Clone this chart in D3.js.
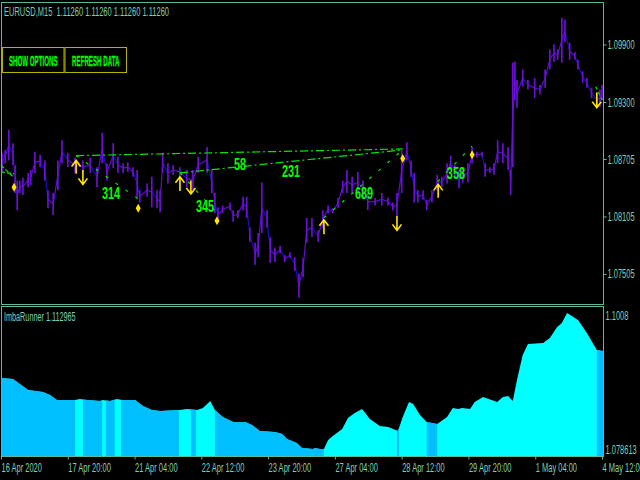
<!DOCTYPE html>
<html>
<head>
<meta charset="utf-8">
<script src="https://cdnjs.cloudflare.com/ajax/libs/d3/7.8.5/d3.min.js"></script>
<style>
  html, body { margin: 0; padding: 0; background: #000; overflow: hidden; }
  text { font-family: "Liberation Sans", Arial, sans-serif; }
</style>
</head>
<body>
<div id="chart"></div>
<script>
// Price columns (bar number, high, low)
const priceBars = [2,8,15,23,27,31,36,42,52,57,65,75,84,90,100,109,117,128,142,157,171,184,194,203,215,224,234,243,253,261,266,280,289,299,305,310,320,330,343,356,368,378,395,404,410,416,425,439,445,454,464,471,477,487,493,500,510,516,525,535,544,554,563,571,579,586,596,608,617,627,636,646,655,663,673,684,694,703,717,730,742,751,759,768,778,786,792,799,809,816,826,836,845,855,862,870,878,885,895,903,912,922,928,937,945,952,962,972,977,981,985,989,1000,1010,1023,1033,1043,1052,1060,1067,1075,1081,1090,1100,1106,1115,1123,1132,1142,1148,1152];
const priceHighs = [1.0877,1.0880,1.0901,1.0887,1.0864,1.0848,1.0848,1.0851,1.0856,1.0859,1.0878,1.0875,1.0869,1.0838,1.0835,1.0869,1.0890,1.0877,1.0872,1.0869,1.0872,1.0862,1.0898,1.0866,1.0887,1.0873,1.0866,1.0867,1.0862,1.0859,1.0838,1.0845,1.0852,1.0838,1.0838,1.0877,1.0866,1.0864,1.0862,1.0859,1.0859,1.0873,1.0883,1.0859,1.0835,1.0820,1.0822,1.0825,1.0817,1.0817,1.0831,1.0831,1.0799,1.0783,1.0793,1.0846,1.0817,1.0789,1.0778,1.0780,1.0770,1.0773,1.0768,1.0751,1.0767,1.0809,1.0809,1.0796,1.0817,1.0822,1.0819,1.0830,1.0848,1.0859,1.0852,1.0857,1.0848,1.0835,1.0830,1.0835,1.0830,1.0825,1.0835,1.0880,1.0888,1.0869,1.0856,1.0838,1.0838,1.0828,1.0838,1.0854,1.0852,1.0866,1.0874,1.0864,1.0859,1.0861,1.0866,1.0883,1.0878,1.0878,1.0866,1.0862,1.0866,1.0890,1.0887,1.0883,1.0859,1.0971,1.0972,1.0953,1.0964,1.0953,1.0955,1.0948,1.0964,1.0985,1.0990,1.0985,1.1018,1.1016,1.0992,1.0982,1.0974,1.0962,1.0955,1.0945,1.0940,1.0943,1.0948];
const priceLows = [1.0856,1.0866,1.0869,1.0864,1.0835,1.0817,1.0835,1.0833,1.0841,1.0843,1.0856,1.0862,1.0848,1.0819,1.0812,1.0838,1.0866,1.0862,1.0856,1.0856,1.0856,1.0841,1.0866,1.0848,1.0861,1.0856,1.0856,1.0857,1.0852,1.0831,1.0825,1.0831,1.0820,1.0819,1.0815,1.0856,1.0845,1.0854,1.0852,1.0841,1.0838,1.0856,1.0856,1.0835,1.0814,1.0804,1.0814,1.0817,1.0805,1.0809,1.0817,1.0809,1.0784,1.0760,1.0768,1.0793,1.0799,1.0762,1.0763,1.0772,1.0763,1.0767,1.0754,1.0726,1.0747,1.0783,1.0789,1.0784,1.0799,1.0814,1.0814,1.0819,1.0835,1.0835,1.0835,1.0835,1.0831,1.0817,1.0822,1.0822,1.0822,1.0817,1.0810,1.0835,1.0869,1.0852,1.0825,1.0825,1.0828,1.0817,1.0825,1.0838,1.0841,1.0845,1.0859,1.0852,1.0840,1.0845,1.0846,1.0866,1.0872,1.0873,1.0852,1.0856,1.0854,1.0866,1.0866,1.0859,1.0833,1.0862,1.0932,1.0924,1.0946,1.0943,1.0934,1.0938,1.0945,1.0964,1.0972,1.0974,1.0971,1.0992,1.0974,1.0974,1.0964,1.0950,1.0945,1.0934,1.0925,1.0925,1.0932];

// Indicator outline
const imbaBars = [0,23,36,52,80,94,107,142,151,165,190,195,209,222,232,257,272,289,305,343,356,376,387,401,410,425,445,468,481,496,525,539,548,567,577,598,602,611,619,627,636,654,665,678,692,707,726,742,761,770,782,790,803,816,836,855,866,876,884,899,908,924,951,962,972,981,989,1000,1010,1039,1052,1066,1075,1085,1106,1123,1142,1154];
const imbaValues = [1.09037,1.09020,1.08938,1.08838,1.08805,1.08755,1.08673,1.08673,1.08689,1.08673,1.08656,1.08673,1.08656,1.08689,1.08673,1.08673,1.08573,1.08507,1.08491,1.08507,1.08524,1.08507,1.08540,1.08656,1.08507,1.08391,1.08308,1.08308,1.08259,1.08159,1.08143,1.08110,1.08027,1.07961,1.07878,1.07861,1.07878,1.07861,1.07861,1.08010,1.08077,1.08193,1.08375,1.08457,1.08524,1.08358,1.08242,1.08226,1.08159,1.08391,1.08640,1.08606,1.08424,1.08308,1.08275,1.08391,1.08540,1.08524,1.08540,1.08524,1.08640,1.08722,1.08640,1.08722,1.08739,1.08656,1.09004,1.09418,1.09600,1.09616,1.09699,1.09881,1.09948,1.10113,1.09997,1.09782,1.09501,1.09484];
const blueStarts = [0,157,201,230,364,410,759,816,1142];
const blueEnds = [142,194,218,341,374,619,763,836,1154];

// Swing lines: start and end of each one
const swingBars0 = [0,0,144,343,144,343,619,837,1140];
const swingPrices0 = [1.0864,1.0857,1.0874,1.0856,1.0874,1.0856,1.0809,1.0847,1.0946];
const swingBars1 = [25,25,770,770,263,414,770,903,1154];
const swingPrices1 = [1.0851,1.0855,1.0881,1.0880,1.0829,1.0814,1.0880,1.0884,1.0930];
const swingDashes = ["4 2","4 2","8 3 2 3","8 3 2 3","3 9","3 9","3 9","3 9","3 3"];

const arrowBars = [144,157,343,364,619,759,838,1142];
const arrowTails = [1.0855,1.0859,1.0837,1.0848,1.0792,1.0811,1.0830,1.0940];
const arrowTips = [1.0869,1.0844,1.0852,1.0834,1.0807,1.0796,1.0844,1.0924];

const diamondBars = [25,263,414,770,903];
const diamondPrices = [1.0841,1.0819,1.0806,1.0871,1.0875];

const distLabels = ["314","345","58","231","689","358"];
const distBars = [211,391,458,556,696,872];
const distPrices = [1.0834,1.0821,1.0865,1.0857,1.0834,1.0855];

const priceTicks = [1.09900,1.09300,1.08705,1.08105,1.07505];
const imbaTicks = [1.1008,1.078613];
const imbaTickLabels = ["1.1008","1.078613"];
const timeBars = [0,128,256,384,512,640,768,896,1024,1152];
const timeLabels = ["16 Apr 2020","17 Apr 20:00","21 Apr 04:00","22 Apr 12:00","23 Apr 20:00","27 Apr 04:00","28 Apr 12:00","29 Apr 20:00","1 May 04:00","4 May 12:00"];
const buttonLabels = ["SHOW OPTIONS","REFRESH DATA"];

const frameColor = "#5fb89a";
const textColor = "#7fcfb0";
const green = "#00ff00";
const yellow = "#ffe600";

const svg = d3.select("#chart").append("svg")
    .attr("width", 640)
    .attr("height", 480)
    .style("display", "block")
    .style("background", "#000");

const x = d3.scaleLinear().domain([0, 1152]).range([1, 602]);
const y = d3.scaleLinear().domain([1.09300, 1.08705]).range([102, 159]);
const yImba = d3.scaleLinear().domain([1.1008, 1.078613]).range([315, 449]);

// No condensed font is installed, so squeeze the glyphs to the width of the original
function squeeze(sel, factor) {
    sel.each(function () {
        d3.select(this)
            .attr("textLength", this.getComputedTextLength() * factor)
            .attr("lengthAdjust", "spacingAndGlyphs");
    });
}

// Indicator panel
const imbaData = imbaBars.map((b, i) => ({ bar: b, value: imbaValues[i] }));
const imbaArea = d3.area()
    .x(d => x(d.bar))
    .y0(456)
    .y1(d => yImba(d.value));

svg.append("path")
    .attr("d", imbaArea(imbaData))
    .attr("fill", "#00ffff");

svg.append("clipPath").attr("id", "blue-bands")
    .selectAll("rect")
    .data(blueStarts)
    .enter().append("rect")
    .attr("x", d => x(d))
    .attr("y", 306)
    .attr("width", (d, i) => x(blueEnds[i]) - x(d))
    .attr("height", 150);

svg.append("path")
    .attr("d", imbaArea(imbaData))
    .attr("fill", "#00bfff")
    .attr("clip-path", "url(#blue-bands)");

// Price: mid to mid connectors, blue when falling, with a purple high-low bar per column
const mid = i => (priceHighs[i] + priceLows[i]) / 2;

svg.selectAll(".link")
    .data(priceBars.slice(1))
    .enter().append("line")
    .attr("class", "link")
    .attr("x1", (d, i) => x(priceBars[i]))
    .attr("y1", (d, i) => y(mid(i)))
    .attr("x2", d => x(d))
    .attr("y2", (d, i) => y(mid(i + 1)))
    .attr("stroke", (d, i) => mid(i + 1) < mid(i) - 0.0006 ? "#1c10b8" : "#5a0fd0")
    .attr("stroke-width", 1.2);

svg.selectAll(".bar")
    .data(priceBars)
    .enter().append("line")
    .attr("class", "bar")
    .attr("x1", d => x(d))
    .attr("x2", d => x(d))
    .attr("y1", (d, i) => y(priceHighs[i]))
    .attr("y2", (d, i) => y(priceLows[i]))
    .attr("stroke", "#6a10d4")
    .attr("stroke-width", 1.7);

// Swing lines
svg.selectAll(".swing")
    .data(swingBars0)
    .enter().append("line")
    .attr("class", "swing")
    .attr("x1", d => x(d))
    .attr("y1", (d, i) => y(swingPrices0[i]))
    .attr("x2", (d, i) => x(swingBars1[i]))
    .attr("y2", (d, i) => y(swingPrices1[i]))
    .attr("stroke", "#00e800")
    .attr("stroke-width", 1.2)
    .attr("stroke-dasharray", (d, i) => swingDashes[i]);

// Arrows
svg.selectAll(".arrow")
    .data(arrowBars)
    .enter().append("path")
    .attr("class", "arrow")
    .attr("d", (d, i) => {
        const ax = x(d);
        const tip = y(arrowTips[i]);
        const tail = y(arrowTails[i]);
        const s = tip < tail ? 1 : -1;
        return `M${ax},${tail}L${ax},${tip}M${ax - 4.5},${tip + s * 6}L${ax},${tip}L${ax + 4.5},${tip + s * 6}`;
    })
    .attr("fill", "none")
    .attr("stroke", yellow)
    .attr("stroke-width", 1.6);

// Diamonds
svg.selectAll(".diamond")
    .data(diamondBars)
    .enter().append("path")
    .attr("class", "diamond")
    .attr("d", (d, i) => {
        const dx = x(d);
        const dy = y(diamondPrices[i]);
        return `M${dx},${dy - 4.5}L${dx + 2.5},${dy}L${dx},${dy + 4.5}L${dx - 2.5},${dy}Z`;
    })
    .attr("fill", yellow);

// Distance numbers
svg.selectAll(".dist")
    .data(distLabels)
    .enter().append("text")
    .attr("class", "dist")
    .attr("x", (d, i) => x(distBars[i]))
    .attr("y", (d, i) => y(distPrices[i]))
    .attr("text-anchor", "middle")
    .attr("dominant-baseline", "central")
    .attr("fill", green)
    .style("font-size", "16px")
    .style("font-weight", "bold")
    .text(d => d)
    .call(squeeze, 0.68);

// Frames
function frame(x0, y0, x1, y1) {
    svg.append("rect")
        .attr("x", x0 + 0.5)
        .attr("y", y0 + 0.5)
        .attr("width", x1 - x0)
        .attr("height", y1 - y0)
        .attr("fill", "none")
        .attr("stroke", frameColor);
}
frame(1, 2, 603, 304);
frame(1, 306, 603, 456);

// Axes
function styleAxis(g) {
    g.select(".domain").remove();
    g.selectAll("line").attr("stroke", frameColor);
    g.selectAll("text")
        .attr("fill", textColor)
        .style("font-size", "12.5px")
        .call(squeeze, 0.6);
}

svg.append("g")
    .attr("transform", "translate(603.5,0)")
    .call(d3.axisRight(y).tickValues(priceTicks).tickSize(3).tickPadding(1).tickFormat(d3.format(".5f")))
    .call(styleAxis);

svg.append("g")
    .attr("transform", "translate(603.5,0)")
    .call(d3.axisRight(yImba).tickValues(imbaTicks).tickSize(0).tickPadding(2).tickFormat((d, i) => imbaTickLabels[i]))
    .call(styleAxis);

const timeAxis = svg.append("g")
    .attr("transform", "translate(0,456.5)")
    .call(d3.axisBottom(x).tickValues(timeBars).tickSize(3).tickPadding(4).tickFormat((d, i) => timeLabels[i]));
timeAxis.selectAll("text").attr("text-anchor", "start");
timeAxis.call(styleAxis);

// Titles
svg.append("text")
    .attr("x", 4)
    .attr("y", 16)
    .attr("fill", textColor)
    .style("font-size", "12.5px")
    .style("white-space", "pre")
    .text("EURUSD,M15  1.11260 1.11260 1.11260 1.11260")
    .call(squeeze, 0.6);

svg.append("text")
    .attr("x", 4)
    .attr("y", 321)
    .attr("fill", textColor)
    .style("font-size", "12.5px")
    .text("ImbaRunner 1.112965")
    .call(squeeze, 0.58);

// Buttons
const buttonX = d3.scaleBand().domain(buttonLabels).range([2, 127]);
svg.selectAll(".btn")
    .data(buttonLabels)
    .enter().append("rect")
    .attr("class", "btn")
    .attr("x", d => buttonX(d) + 0.5)
    .attr("y", 47.5)
    .attr("width", buttonX.bandwidth() - 1)
    .attr("height", 25)
    .attr("fill", "none")
    .attr("stroke", "#b4b400");

svg.selectAll(".btn-label")
    .data(buttonLabels)
    .enter().append("text")
    .attr("class", "btn-label")
    .attr("x", d => buttonX(d) + buttonX.bandwidth() / 2)
    .attr("y", 60)
    .attr("text-anchor", "middle")
    .attr("dominant-baseline", "central")
    .attr("fill", green)
    .attr("stroke", green)
    .attr("stroke-width", 0.3)
    .style("font-size", "15px")
    .style("font-weight", "bold")
    .text(d => d)
    .call(squeeze, 0.41);
</script>
</body>
</html>
